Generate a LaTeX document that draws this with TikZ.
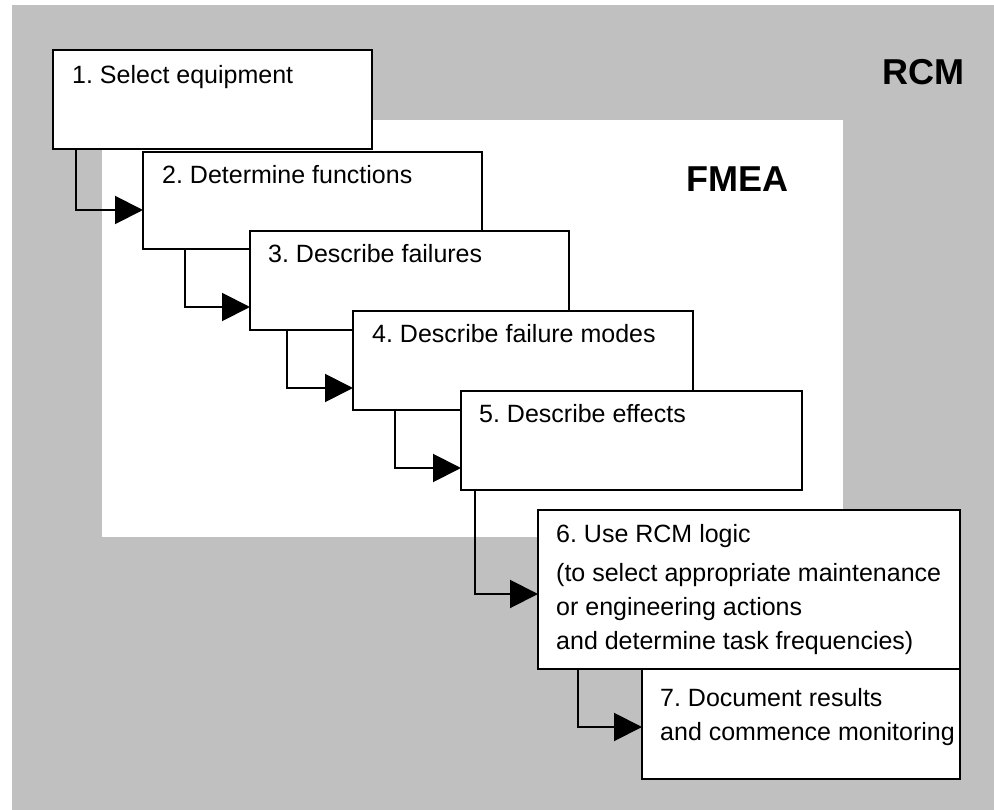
\documentclass[tikz,border=0pt]{standalone}
\usepackage{fontspec}
\setmainfont{Liberation Sans}
\usetikzlibrary{arrows.meta, positioning}
\definecolor{rcmgray}{RGB}{192,192,192}

\begin{document}
\frenchspacing
\begin{tikzpicture}
    [
        x=1pt, y=-1pt,
        stepbox/.style={draw, fill=white, line width=2pt, inner sep=0pt, outer sep=0pt, anchor=north west},
        steptext/.style={anchor=base west, inner sep=0pt, align=left, font=\fontsize{25}{34}\selectfont},
        area/.style={inner sep=0pt, outer sep=0pt, anchor=north west},
        tag/.style={inner sep=0pt, font=\fontsize{36}{36}\selectfont\bfseries}
    ]
    \tikzstyle{line} = [draw, line width=2pt, -{Triangle[length=28pt,width=28pt]}]

    \useasboundingbox (0,0) rectangle (994,810);

    % the two areas
    \node[area, fill=rcmgray, minimum width=982pt, minimum height=805pt] (rcm) at (12,5) {};
    \node[area, fill=white, minimum width=741pt, minimum height=417pt] (fmea) at (102,120) {};
    \node[tag, anchor=base east] (rcm_tag) at (965,85) {RCM};
    \node[tag, anchor=base west] (fmea_tag) at (686,192) {FMEA};

    % the steps
    \node[stepbox, minimum width=319pt, minimum height=99pt] (b1) at (53,50) {};
    \node[steptext] (t1) at ([shift={(19,34)}]b1.north west) {1. Select equipment};

    \node[stepbox, minimum width=339pt, minimum height=97pt] (b2) at (143,152) {};
    \node[steptext] (t2) at ([shift={(19,32)}]b2.north west) {2. Determine functions};

    \node[stepbox, minimum width=319pt, minimum height=99pt] (b3) at (250,231) {};
    \node[steptext] (t3) at ([shift={(18,32)}]b3.north west) {3. Describe failures};

    \node[stepbox, minimum width=340pt, minimum height=99pt] (b4) at (353,311) {};
    \node[steptext] (t4) at ([shift={(19,32)}]b4.north west) {4. Describe failure modes};

    \node[stepbox, minimum width=341pt, minimum height=99pt] (b5) at (461,391) {};
    \node[steptext] (t5) at ([shift={(18,31)}]b5.north west) {5. Describe effects};

    % base of a multi-line text is its last line
    \node[stepbox, minimum width=422pt, minimum height=159pt] (b6) at (538,510) {};
    \node[steptext] (t6) at ([shift={(18,139)}]b6.north west)
        {6. Use RCM logic\\[5pt] (to select appropriate maintenance\\ or engineering actions\\ and determine task frequencies)};

    \node[stepbox, minimum width=318pt, minimum height=110pt] (b7) at (642,669) {};
    \node[steptext] (t7) at ([shift={(18,71)}]b7.north west)
        {7. Document results\\ and commence monitoring};

    % the arrows
    \path[line] ([xshift=23pt]b1.south west) |- ([yshift=39pt]b2.south west);
    \path[line] ([xshift=42pt]b2.south west) |- ([yshift=23pt]b3.south west);
    \path[line] ([xshift=37pt]b3.south west) |- ([yshift=22pt]b4.south west);
    \path[line] ([xshift=42pt]b4.south west) |- ([yshift=22pt]b5.south west);
    \path[line] ([xshift=14pt]b5.south west) |- ([yshift=75pt]b6.south west);
    \path[line] ([xshift=40pt]b6.south west) |- ([yshift=52pt]b7.south west);

\end{tikzpicture}
\end{document}
